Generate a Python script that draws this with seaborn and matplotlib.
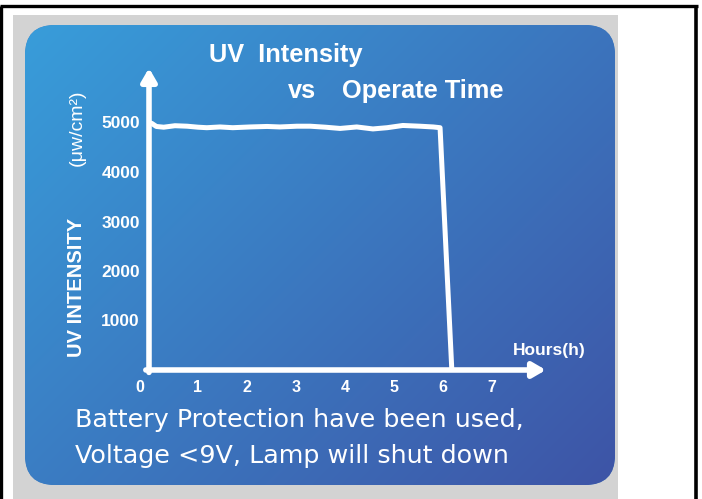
import numpy as np
import matplotlib
matplotlib.use("Agg")
import matplotlib.pyplot as plt
import seaborn as sns
from matplotlib.patches import FancyBboxPatch, Rectangle

# ---- data ----
hours = [0.0, 0.06, 0.15, 0.30, 0.53, 0.78, 1.00, 1.18, 1.45, 1.71, 2.06, 2.41, 2.67,
         3.02, 3.29, 3.60, 3.90, 4.24, 4.57, 4.86, 5.18, 5.53, 5.80, 5.94, 6.18]
intensity = [5000, 4980, 4920, 4905, 4935, 4925, 4905, 4895, 4910, 4895, 4910, 4920,
             4910, 4925, 4925, 4905, 4880, 4910, 4870, 4895, 4940, 4925, 4910, 4895, 0]
x_ticks = [1, 2, 3, 4, 5, 6, 7]
y_ticks = [1000, 2000, 3000, 4000, 5000]
title_line1 = "UV  Intensity"
title_vs = "vs"
title_line2 = "Operate Time"
y_label = "UV INTENSITY"
y_unit = "(μw/cm²)"
x_label = "Hours(h)"
note1 = "Battery Protection have been used,"
note2 = "Voltage <9V, Lamp will shut down"

sns.set_theme(style="white")
plt.rcParams["font.family"] = ["Liberation Sans", "DejaVu Sans"]

W, H = 702, 499
fig = plt.figure(figsize=(W / 100, H / 100), dpi=100)
fig.patch.set_facecolor("white")

# ---- background (pixel coordinates) ----
bg = fig.add_axes([0, 0, 1, 1], zorder=0)
bg.axis("off")
bg.add_patch(Rectangle((13, 15), 605, 484, facecolor="#d3d3d3", edgecolor="none", zorder=0.5))
panel = FancyBboxPatch((25, 25), 590, 460, boxstyle="round,pad=0,rounding_size=30",
                       facecolor="#3a7dc4", edgecolor="none", zorder=1)
bg.add_patch(panel)
n = 200
gx, gy = np.meshgrid(np.linspace(0, 1, n), np.linspace(0, 1, n))
t = (gx * 590 + gy * 460) / (590 + 460)
c0 = np.array([56, 157, 218]) / 255.0
c1 = np.array([62, 84, 166]) / 255.0
grad = c0[None, None, :] * (1 - t[..., None]) + c1[None, None, :] * t[..., None]
im = bg.imshow(grad, extent=(25, 615, 485, 25), aspect="auto", interpolation="bilinear",
               zorder=2)
im.set_clip_path(panel)
bg.plot([0, 698], [6, 6], color="black", lw=2.4, solid_capstyle="butt", zorder=3)
bg.plot([1.2, 1.2], [6, 499], color="black", lw=2.4, solid_capstyle="butt", zorder=3)
bg.plot([696, 696], [5, 499], color="black", lw=2.6, solid_capstyle="butt", zorder=3)
bg.set_xlim(0, W)
bg.set_ylim(H, 0)

txt = dict(color="white", va="baseline", ha="left", zorder=4)
bg.text(209, 62, title_line1, fontsize=18.3, fontweight="bold", **txt)
bg.text(288, 98, title_vs, fontsize=18.3, fontweight="bold", **txt)
bg.text(342, 98, title_line2, fontsize=18.3, fontweight="bold", **txt)
bg.text(513, 355, x_label, fontsize=12.5, fontweight="bold", **txt)
bg.text(75, 427, note1, fontsize=18.3, family=["DejaVu Sans"], **txt)
bg.text(75, 463, note2, fontsize=18.3, family=["DejaVu Sans"], **txt)
bg.text(76, 287, y_label, rotation=90, ha="center", va="center", color="white",
        fontsize=14.5, fontweight="bold", zorder=4)
bg.text(77, 128, y_unit, rotation=90, ha="center", va="center", color="white",
        fontsize=14, zorder=4)

# ---- chart axes ----
x0, y0 = 149, 370
xmax, ymax = 8.1, 6100
ax = fig.add_axes([x0 / W, (H - y0) / H, xmax * 49 / W, (ymax / 1000) * 49.5 / H], zorder=2)
ax.set_facecolor("none")
sns.lineplot(x=hours, y=intensity, ax=ax, color="white", lw=3.6, sort=False,
             solid_joinstyle="round", solid_capstyle="round")
ax.set_xlim(0, xmax)
ax.set_ylim(0, ymax)
for s in ax.spines.values():
    s.set_visible(False)

arrow = dict(arrowstyle="-|>,head_length=0.55,head_width=0.32", color="white",
             lw=4, shrinkA=0, shrinkB=0, mutation_scale=14)
ax.annotate("", xy=(1, 0), xytext=(-0.008, 0), xycoords="axes fraction", arrowprops=arrow)
ax.annotate("", xy=(0, 1), xytext=(0, -0.008), xycoords="axes fraction", arrowprops=arrow)

ax.set_xticks(x_ticks, labels=[str(v) for v in x_ticks], fontsize=11.5, fontweight="bold")
ax.set_yticks(y_ticks, labels=[str(v) for v in y_ticks], fontsize=12.5, fontweight="bold")
ax.tick_params(axis="both", direction="in", length=6, width=2.2, color="white",
               labelcolor="white")
ax.tick_params(axis="x", pad=7)
ax.tick_params(axis="y", pad=6.5)
ax.annotate("0", xy=(0, 0), xycoords=("data", "axes fraction"), xytext=(-6.5, -7),
            textcoords="offset points", ha="center", va="top", color="white",
            fontsize=11.5, fontweight="bold")
ax.set_xlabel("")
ax.set_ylabel("")

fig.savefig("out.png", dpi=100)
